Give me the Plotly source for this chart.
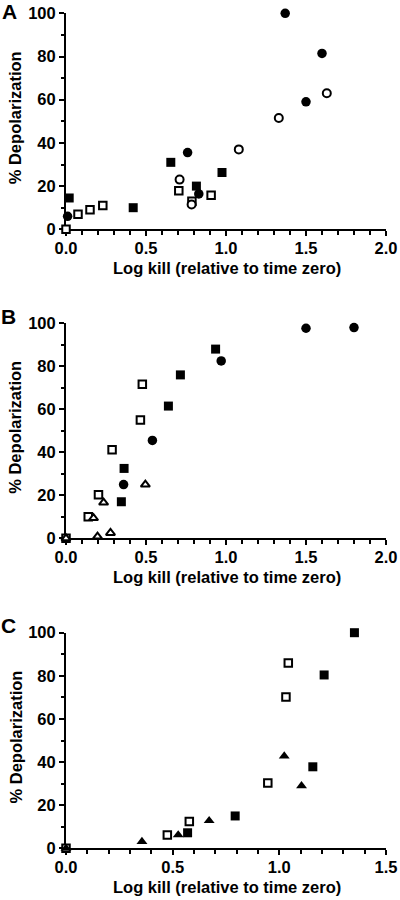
import plotly.graph_objects as go

# ---------------- data ----------------
# Panel A
a_fc_x = [1.37, 1.60, 1.50, 0.76, 0.83, 0.01]
a_fc_y = [100, 81.4, 59, 35.5, 16.4, 6]
a_oc_x = [1.63, 1.33, 1.08, 0.71, 0.785]
a_oc_y = [63, 51.5, 37, 23, 11.5]
a_fs_x = [0.655, 0.02, 0.42, 0.815, 0.975]
a_fs_y = [31, 14.5, 10, 20, 26.3]
a_os_x = [0, 0.075, 0.15, 0.23, 0.705, 0.787, 0.907]
a_os_y = [0, 7, 9, 11, 17.8, 13, 15.8]

# Panel B
b_fc_x = [1.50, 1.80, 0.97, 0.54, 0.36]
b_fc_y = [97.7, 98, 82.5, 45.5, 25]
b_fs_x = [0.935, 0.715, 0.64, 0.363, 0.346]
b_fs_y = [88, 76, 61.5, 32.5, 17]
b_os_x = [0.477, 0.465, 0.288, 0.203, 0.139, 0]
b_os_y = [71.6, 55, 41.2, 20.2, 10, 0]
b_ot_x = [0.496, 0.235, 0.172, 0.197, 0.278, 0]
b_ot_y = [25, 16.6, 9.4, 0.8, 2.5, 0]

# Panel C
c_fs_x = [1.352, 1.21, 1.157, 0.793, 0.57]
c_fs_y = [100, 80.4, 37.8, 15, 7.2]
c_os_x = [1.042, 1.031, 0.946, 0.578, 0.475, 0]
c_os_y = [86, 70.2, 30.3, 12.4, 6.2, 0]
c_ft_x = [1.023, 1.104, 0.671, 0.526, 0.356, 0]
c_ft_y = [42.8, 29, 12.8, 6.2, 3.1, 0]

y_ticks = [0, 20, 40, 60, 80, 100]
x_ticks_ab = [0.0, 0.5, 1.0, 1.5, 2.0]
x_ticks_c = [0.0, 0.5, 1.0, 1.5]
panel_labels = ["A", "B", "C"]
x_title = "Log kill (relative to time zero)"
y_title = "% Depolarization"

# ---------------- styling ----------------
W, H = 400, 900
FONT = "Liberation Sans, Arial, sans-serif"

def px_x(p):
    return p / W

def px_y(p):
    return 1 - p / H

X0, X1 = 66, 386
x_dom = [px_x(X0), px_x(X1)]
panel_px = [(229.3, 13.3), (538.3, 323.3), (848.3, 632.7)]  # (bottom, top) in px
y_doms = [[px_y(b), px_y(t)] for b, t in panel_px]

FILL = dict(color="black", line=dict(width=0))
OPEN = dict(color="white", line=dict(width=2, color="black"))

def marker(symbol, style, size):
    d = dict(symbol=symbol, size=size)
    d.update(style)
    return d

fig = go.Figure()

def add(xs, ys, symbol, style, size, n):
    sfx = "" if n == 1 else str(n)
    fig.add_trace(go.Scatter(
        x=xs, y=ys, mode="markers",
        marker=marker(symbol, style, size),
        xaxis="x" + sfx, yaxis="y" + sfx,
        cliponaxis=False, showlegend=False, hoverinfo="x+y",
    ))

# Panel A
add(a_os_x, a_os_y, "square", OPEN, 7.5, 1)
add(a_oc_x, a_oc_y, "circle", OPEN, 8, 1)
add(a_fs_x, a_fs_y, "square", FILL, 9, 1)
add(a_fc_x, a_fc_y, "circle", FILL, 9.5, 1)
# Panel B
add(b_os_x, b_os_y, "square", OPEN, 7.5, 2)
add(b_ot_x, b_ot_y, "triangle-up", OPEN, 8, 2)
add(b_fs_x, b_fs_y, "square", FILL, 9, 2)
add(b_fc_x, b_fc_y, "circle", FILL, 9.5, 2)
# Panel C
add(c_os_x, c_os_y, "square", OPEN, 7.5, 3)
add(c_fs_x, c_fs_y, "square", FILL, 9, 3)
add(c_ft_x, c_ft_y, "triangle-up", FILL, 9.5, 3)

tickfont = dict(family=FONT, size=16.5, color="black", weight="bold")
titlefont = dict(family=FONT, size=16.5, color="black", weight="bold")

def xaxis(rng, ticks, anchor):
    return dict(
        domain=x_dom, range=rng, anchor=anchor, automargin=False,
        tickvals=ticks, ticktext=[f"{t:.1f}" for t in ticks],
        showline=True, linecolor="black", linewidth=2,
        ticks="outside", ticklen=5, tickwidth=1.8, tickcolor="black",
        ticklabelstandoff=-2,
        minor=dict(dtick=0.1, ticks="outside", ticklen=3.5, tickwidth=1.5, tickcolor="black", showgrid=False),
        showgrid=False, zeroline=False, layer="below traces",
        tickfont=tickfont,
    )

def yaxis(dom, anchor):
    return dict(
        domain=dom, range=[0, 100], anchor=anchor, automargin=False,
        tickvals=y_ticks, ticktext=[str(t) for t in y_ticks],
        showline=True, linecolor="black", linewidth=2,
        ticks="outside", ticklen=5, tickwidth=1.8, tickcolor="black",
        minor=dict(dtick=10, ticks="outside", ticklen=3.5, tickwidth=1.5, tickcolor="black", showgrid=False),
        showgrid=False, zeroline=False, layer="below traces",
        tickfont=tickfont,
    )

annotations = []
label_pos = [(9.5, 12), (8, 316), (8, 625)]
for lab, (lx, ly) in zip(panel_labels, label_pos):
    annotations.append(dict(
        text=lab, x=px_x(lx), y=px_y(ly), xref="paper", yref="paper",
        xanchor="center", yanchor="middle", showarrow=False,
        font=dict(family=FONT, size=21, color="black", weight="bold"),
    ))
for b, t in panel_px:
    # x-axis title
    annotations.append(dict(
        text=x_title, x=px_x((66 + 388) / 2), y=px_y(b + 38.5), xref="paper", yref="paper",
        xanchor="center", yanchor="middle", showarrow=False, font=titlefont,
    ))
    # y-axis title
    annotations.append(dict(
        text=y_title, x=px_x(15), y=px_y((b + t) / 2 - 3), xref="paper", yref="paper",
        xanchor="center", yanchor="middle", showarrow=False, textangle=-90, font=titlefont,
    ))

fig.update_layout(
    width=W, height=H,
    margin=dict(l=0, r=0, t=0, b=0),
    paper_bgcolor="white", plot_bgcolor="white",
    xaxis=xaxis([0, 2], x_ticks_ab, "y"),
    yaxis=yaxis(y_doms[0], "x"),
    xaxis2=xaxis([0, 2], x_ticks_ab, "y2"),
    yaxis2=yaxis(y_doms[1], "x2"),
    xaxis3=xaxis([0, 1.5], x_ticks_c, "y3"),
    yaxis3=yaxis(y_doms[2], "x3"),
    annotations=annotations,
)

fig.write_html(
    "out.html",
    config={"displayModeBar": False},
    post_script="document.body.style.margin='0';document.body.style.padding='0';",
)
